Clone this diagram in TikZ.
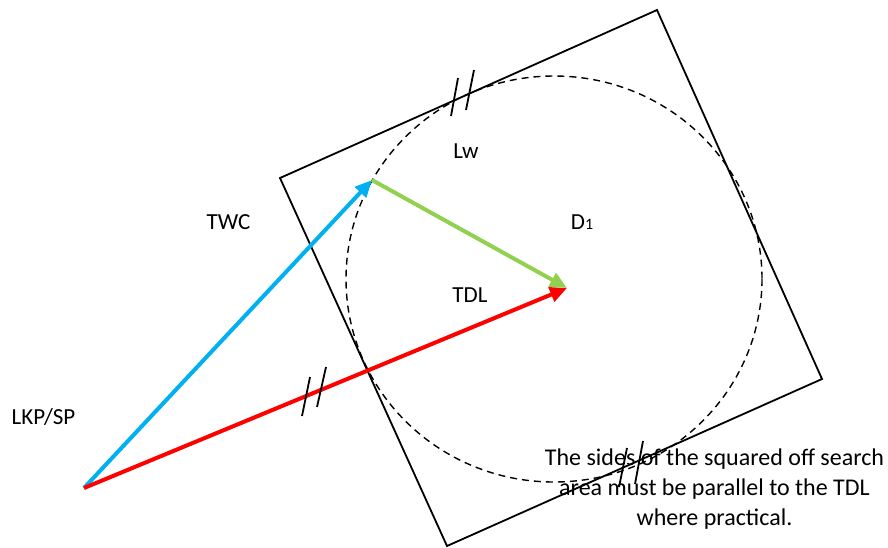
\documentclass[tikz,border=0pt]{standalone}
\usepackage{fontspec}
\setmainfont{Carlito}
\usetikzlibrary{arrows.meta}
\definecolor{twcblue}{HTML}{00B0F0}
\definecolor{lwgreen}{HTML}{92D050}
\definecolor{tdlred}{HTML}{FF0000}
\tikzset{
  vec/.style={line width=4pt,-{Triangle[length=17pt,width=15pt]}},
  lbl/.style={font=\fontsize{23}{28}\selectfont,inner sep=0pt,anchor=base},
  tick/.style={line width=1.8pt},
  box/.style={line width=1.8pt},
}
\begin{document}
\begin{tikzpicture}[x=1pt,y=-1pt]
\useasboundingbox (0,0) rectangle (888,547);
% square search area
\coordinate (s1) at (280,178);
\coordinate (s2) at (657,10);
\coordinate (s3) at (822,379);
\coordinate (s4) at (447,546);
\draw[box] (s1) -- (s2) -- (s3) -- (s4) -- cycle;
% dashed circle
\coordinate (c) at (554,279);
\draw[line width=1.4pt,dash pattern=on 7pt off 5pt] (c) ellipse [x radius=208,y radius=203];
% points
\coordinate (lkp) at (84,488);
\coordinate (twc) at (372,180);
\coordinate (d) at (567,288);
% vectors
\draw[vec,twcblue] (lkp) -- (twc);
\draw[vec,tdlred] (lkp) -- (d);
\draw[vec,lwgreen] (twc) -- (d);
% ticks
\draw[tick] (458,78) -- (451,116);
\draw[tick] (474,70) -- (466,110);
\draw[tick] (310,377) -- (302,416);
\draw[tick] (326,367) -- (317,407);
\draw[tick] (627,448) -- (619,487);
\draw[tick] (643,441) -- (635,484);
% labels
\node[lbl] (lw) at (466,158) {Lw};
\node[lbl] (twclbl) at (228.5,229) {TWC};
\node[lbl] (dlbl) at (582,229) {D{\fontsize{16}{18}\selectfont 1}};
\node[lbl] (tdl) at (470,302) {TDL};
\node[lbl] (lkplbl) at (43.5,424) {LKP/SP};
\node[font=\fontsize{24}{30}\selectfont,inner sep=0pt,align=center,anchor=north] (note) at (714.5,449) {The sides of the squared off search\\area must be parallel to the TDL\\where practical.};
\end{tikzpicture}
\end{document}
